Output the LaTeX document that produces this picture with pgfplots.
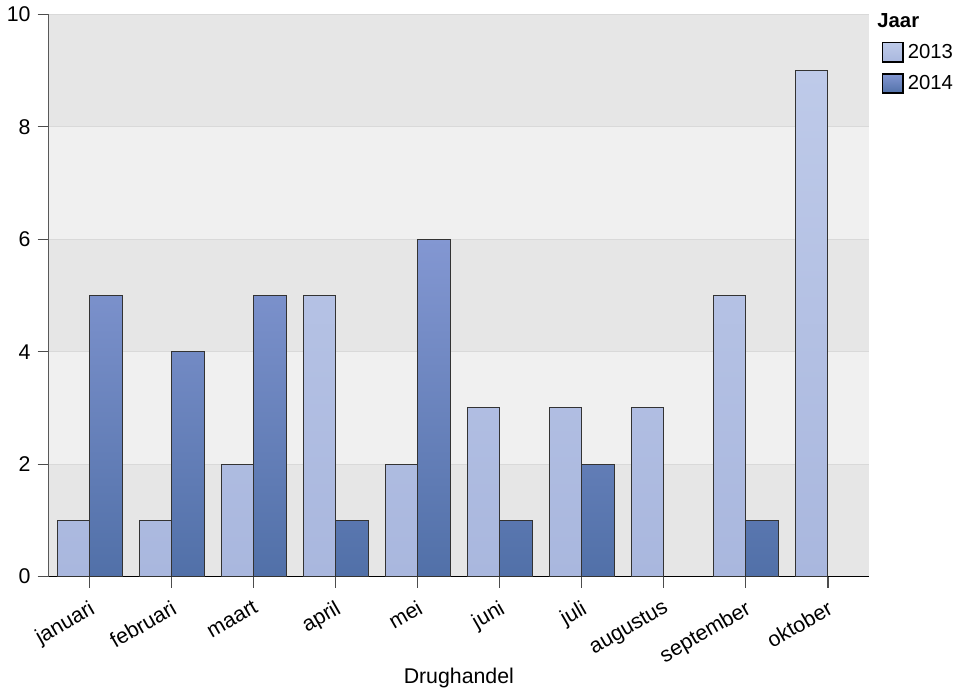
\documentclass[border=0pt]{standalone}
\usepackage{fontspec}
\setmainfont{Liberation Sans}
\usepackage{pgfplots}
\pgfplotsset{compat=1.18}
\definecolor{aTop}{HTML}{BECAE9}
\definecolor{aBot}{HTML}{A9B7DE}
\definecolor{bTop}{HTML}{8397D2}
\definecolor{bBot}{HTML}{5170A8}
\definecolor{bandD}{HTML}{E6E6E6}
\definecolor{bandL}{HTML}{F0F0F0}
\begin{document}
\begin{tikzpicture}
\begin{axis}[
  name=ax,
  set layers,
  /pgf/number format/assume math mode=true,
  scale only axis, width=404pt, height=277pt,
  xmin=-0.5, xmax=9.5, ymin=0, ymax=10,
  ybar=0pt, bar width=0.4,
  axis x line*=bottom, axis y line*=left,
  x axis line style={black, line width=0.6pt},
  y axis line style={black!65, line width=0.6pt},
  xtick={0,...,9},
  xticklabels={januari,februari,maart,april,mei,juni,juli,augustus,september,oktober},
  x tick label style={rotate=30, anchor=north east, font=\fontsize{10.5}{12}\selectfont, yshift=-1pt},
  y tick label style={font=\fontsize{10.5}{12}\selectfont},
  ytick={0,2,...,10},
  tick align=outside,
  major tick length=5.5pt,
  tick style={black!70, line width=0.6pt},
  ymajorgrids, grid style={black!15, line width=0.5pt},
  xlabel={Drughandel},
  xlabel style={at={(axis description cs:0.5,-0.18)}, anchor=center, font=\fontsize{10.5}{12}\selectfont},
  legend style={at={(1.015,0.955)}, anchor=north west, draw=none, fill=none,
    font=\fontsize{10}{12}\selectfont, row sep=3pt, inner sep=0pt},
  legend cell align=left,
  legend image code/.code={\draw[#1, draw=black, line width=0.9pt] (0pt,-4.5pt) rectangle (10pt,5pt);},
]
\begin{pgfonlayer}{axis background}
  \fill[bandD] (axis cs:-0.5,0) rectangle (axis cs:9.5,2);
  \fill[bandL] (axis cs:-0.5,2) rectangle (axis cs:9.5,4);
  \fill[bandD] (axis cs:-0.5,4) rectangle (axis cs:9.5,6);
  \fill[bandL] (axis cs:-0.5,6) rectangle (axis cs:9.5,8);
  \fill[bandD] (axis cs:-0.5,8) rectangle (axis cs:9.5,10);
\end{pgfonlayer}
\addplot[draw=black!80, line width=0.5pt, top color=aTop, bottom color=aBot] coordinates {
  (0,1) (1,1) (2,2) (3,5) (4,2) (5,3) (6,3) (7,3) (8,5) (9,9)};
\addlegendentry{2013}
\addplot[draw=black!80, line width=0.5pt, top color=bTop, bottom color=bBot] coordinates {
  (0,5) (1,4) (2,5) (3,1) (4,6) (5,1) (6,2) (8,1)};
\addlegendentry{2014}
\end{axis}
\node[anchor=south west, font=\bfseries\fontsize{10}{12}\selectfont, inner sep=0pt] at ([xshift=4pt, yshift=-7pt]ax.north east) {Jaar};
\end{tikzpicture}
\end{document}
